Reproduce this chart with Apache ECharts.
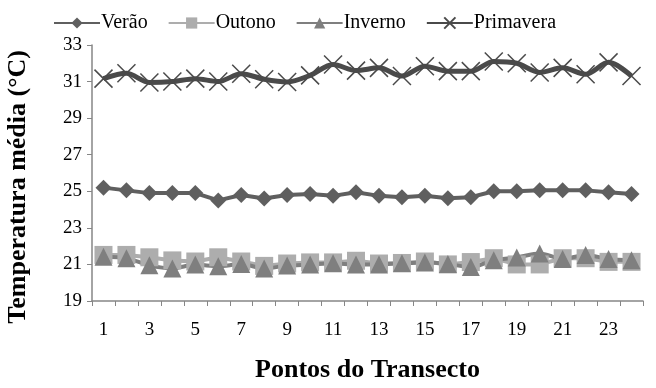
<!DOCTYPE html>
<html><head><meta charset="utf-8">
<script src="https://cdn.jsdelivr.net/npm/echarts@6/dist/echarts.min.js"></script>
<style>html,body{margin:0;padding:0;background:#fff}#c{width:656px;height:388px}</style>
</head><body><div id="c"></div>
<script>
const categories = ['1','2','3','4','5','6','7','8','9','10','11','12','13','14','15','16','17','18','19','20','21','22','23','24'];
const verao = [25.2,25.05,24.9,24.9,24.9,24.5,24.8,24.6,24.8,24.85,24.75,24.95,24.75,24.68,24.75,24.62,24.68,25.0,25.0,25.05,25.05,25.05,24.95,24.85];
const outono = [21.52,21.52,21.39,21.22,21.16,21.39,21.16,20.92,21.05,21.11,21.11,21.2,21.05,21.08,21.16,21.0,21.13,21.34,21.0,21.0,21.34,21.34,21.14,21.14];
const inverno = [21.42,21.34,20.95,20.78,20.99,20.9,21.02,20.78,20.94,20.99,21.06,20.99,21.0,21.06,21.1,21.02,20.86,21.23,21.38,21.6,21.3,21.52,21.3,21.23];
const primavera = [31.16,31.45,30.95,31.0,31.16,31.0,31.43,31.13,30.98,31.34,31.93,31.6,31.75,31.3,31.84,31.57,31.57,32.1,32.0,31.5,31.75,31.4,32.05,31.3];
const yTicks = {min:19, max:33, interval:2};
const xTitle = 'Pontos do Transecto';
const yTitle = 'Temperatura média (°C)';

const FONT = 'Liberation Serif';
const xPath = 'path://M0,0 L10,10 M10,0 L0,10';
const chart = echarts.init(document.getElementById('c'));
chart.setOption({
  animation:false,
  textStyle:{fontFamily:FONT},
  legend:{
    top:8, left:48, itemWidth:46, itemHeight:14, itemGap:20,
    textStyle:{fontFamily:FONT, fontSize:20, color:'#000', padding:[0,0,0,-4]},
    data:['Verão','Outono','Inverno','Primavera']
  },
  graphic:[{
    type:'text', left:5, top:50, rotation:Math.PI/2,
    style:{text:yTitle, font:'bold 26px "Liberation Serif"', fill:'#000'}
  }],
  grid:{left:92, right:13, top:45, bottom:80},
  xAxis:{
    type:'category', data:categories, boundaryGap:true,
    name:xTitle, nameLocation:'middle', nameGap:56,
    nameTextStyle:{fontFamily:FONT, fontSize:26, fontWeight:'bold', color:'#000'},
    axisLine:{lineStyle:{color:'#868686', width:1.5}},
    axisTick:{show:true, length:5, interval:0, lineStyle:{color:'#868686'}},
    axisLabel:{interval:1, margin:20, fontFamily:FONT, fontSize:19, color:'#000'}
  },
  yAxis:{
    type:'value', min:yTicks.min, max:yTicks.max, interval:yTicks.interval,
    splitLine:{show:false},
    axisLine:{show:true, lineStyle:{color:'#868686', width:1.5}},
    axisTick:{show:true, length:5, lineStyle:{color:'#868686'}},
    axisLabel:{margin:10, fontFamily:FONT, fontSize:19, color:'#000'}
  },
  series:[
    {name:'Verão', type:'line', data:verao, symbol:'diamond', symbolSize:16, showAllSymbol:true,
     itemStyle:{color:'#5f5f5f'}, lineStyle:{color:'#5f5f5f', width:4}},
    {name:'Outono', type:'line', data:outono, symbol:'rect', symbolSize:18, showAllSymbol:true,
     itemStyle:{color:'#adadad'}, lineStyle:{color:'#adadad', width:4}},
    {name:'Inverno', type:'line', data:inverno, symbol:'triangle', symbolSize:18, smooth:0.3, showAllSymbol:true,
     itemStyle:{color:'#7f7f7f'}, lineStyle:{color:'#7f7f7f', width:4}},
    {name:'Primavera', type:'line', data:primavera, symbol:xPath, symbolSize:18, smooth:0.3, showAllSymbol:true,
     itemStyle:{color:'#4a4a4a', borderColor:'#4a4a4a', borderWidth:1.5}, lineStyle:{color:'#4a4a4a', width:5}}
  ]
});
</script></body></html>
